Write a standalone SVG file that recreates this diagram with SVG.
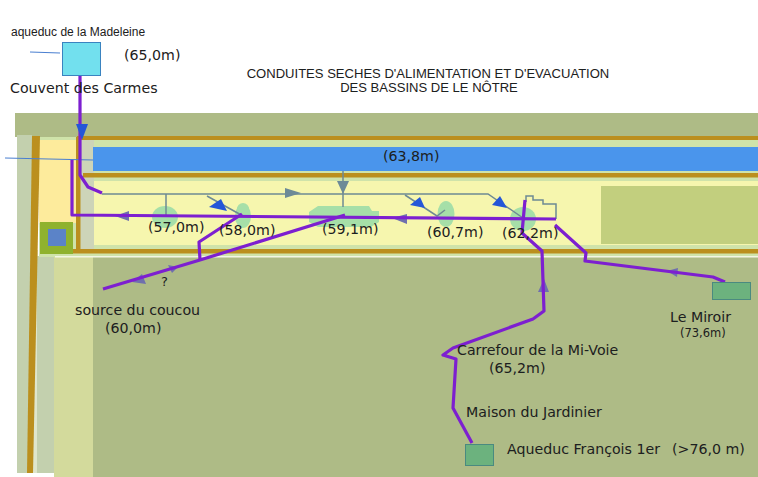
<svg xmlns="http://www.w3.org/2000/svg" width="758" height="477" viewBox="0 0 758 477">
<defs>
<style>
text{font-family:"DejaVu Sans",sans-serif;fill:#1c2020;font-size:14.200px}
.p{fill:none;stroke:#7d1fd0;stroke-width:3.200;stroke-linejoin:round}
.g{fill:none;stroke:#6e8a94;stroke-width:1.500}
.o{fill:#bb8f1e}
.pond{fill:#a6dfa8}
.ag{fill:#6d8a97}
.ab{fill:#2456d8}
.ap{fill:#6f6fae}
</style>
</defs>
<rect width="758" height="477" fill="#fff"/>
<g id="site">
<rect x="15" y="113" width="743" height="24" fill="#aebb86"/>
<rect x="17" y="135" width="15" height="338" fill="#c3d0ae"/>
<rect x="32" y="250" width="6" height="223" fill="#dfe6cc"/>
<rect x="37" y="256" width="18" height="217" fill="#c3d0ae"/>
<rect x="54" y="255" width="39" height="222" fill="#d3da9c"/>
<rect x="93" y="257" width="665" height="220" fill="#aebb86"/>
<rect x="39" y="137" width="719" height="120" fill="#cfe3aa"/>
<rect x="39" y="140" width="38" height="83" fill="#fdeb9c"/>
<rect x="79" y="140" width="15" height="110" fill="#cdd4b8"/>
<rect x="94" y="181" width="664" height="64" fill="#f6f6ae"/>
<rect x="601" y="186" width="157" height="58" fill="#c2cf7e"/>
<path class="o" d="M32 136H40L33 473H27Z"/>
<rect class="o" x="77" y="136" width="681" height="4"/>
<rect class="o" x="83" y="173" width="675" height="4.500"/>
<rect class="o" x="41" y="249" width="717" height="4.500"/>
<rect class="o" x="76" y="137" width="4.500" height="113"/>
<rect x="55" y="256" width="703" height="1.500" fill="#f3f7e4"/>
<rect x="40" y="222" width="33" height="32" fill="#8fb22e"/>
<rect x="48" y="229" width="18" height="17" fill="#5b83c8"/>
</g>
<g id="canal">
<rect x="93" y="147" width="665" height="24" fill="#4a95ec"/>
<path d="M5 158L93 160" fill="none" stroke="#4a7fd0" stroke-width="1.200"/>
</g>
<g id="bassins">
<ellipse class="pond" cx="165" cy="217" rx="13" ry="11"/>
<ellipse class="pond" cx="243" cy="216" rx="8" ry="12"/>
<circle class="pond" cx="243" cy="209" r="6"/>
<path class="pond" d="M318 206H369L372 211H379V222L371 227H318L309 222V212Z"/>
<ellipse class="pond" cx="446" cy="214" rx="8.500" ry="13"/>
<ellipse class="pond" cx="523" cy="219" rx="13" ry="12"/>
</g>
<g id="connectors">
<path class="g" d="M102 194H488L523 218"/>
<path class="g" d="M166 194V217M343 171V207M207 196L243 216M405 195L437 216L445 210M526 202V196H533V200H543V204H556V219"/>
<path class="ap" d="M115 216L129 211V221Z"/>
<path class="ap" d="M392 218L407 214V224Z"/>
<path class="ap" d="M132 282L146 284L142 274Z"/>
<path class="ap" d="M178 267L168 265L172 273Z"/>
<path class="ap" d="M544 279L549 292H538Z"/>
<path class="ap" d="M667 271L678 268L677 277Z"/>
<path class="p" d="M80 76V175L88 187L102 193"/>
<path class="p" d="M72 160V215L556 219"/>
<path class="p" d="M103 289L200 260L345 215"/>
<path class="p" d="M200 260L199 242L242 214"/>
<path class="p" d="M525 200L522 233L542 251L544 311L533 319L453 348L443 355L456 359L453 408L472 443"/>
<path class="p" d="M555 225L586 253L585 261L713 277L725 282"/>
<path class="ab" d="M76 124H88L82 140Z"/>
<path class="ag" d="M337 181H349L343 194Z"/>
<path class="ag" d="M285 188L301 193L285 198Z"/>
<path class="ab" d="M227 211L221 199L209 207Z"/>
<path class="ab" d="M425 208L420 197L410 205Z"/>
<path class="ab" d="M507 208L500 196L492 205Z"/>
</g>
<g id="couvent">
<path d="M30 52L60 53" fill="none" stroke="#4a7fd0" stroke-width="1.200"/>
<rect x="62.500" y="42.500" width="38" height="33" fill="#72e0ee" stroke="#3a83c0"/>
<text x="11" y="36" style="font-family:'Liberation Sans',sans-serif;font-size:12px">aqueduc de la Madeleine</text>
<text x="124" y="60">(65,0m)</text>
<text x="10" y="93">Couvent des Carmes</text>
</g>
<g id="title">
<text x="428" y="78" text-anchor="middle" style="font-family:'Liberation Sans',sans-serif;font-size:13.050px">CONDUITES SECHES D'ALIMENTATION ET D'EVACUATION</text>
<text x="429" y="92" text-anchor="middle" style="font-family:'Liberation Sans',sans-serif;font-size:13.050px">DES BASSINS DE LE NÔTRE</text>
</g>
<g id="labels">
<text x="383" y="161">(63,8m)</text>
<text x="148" y="232">(57,0m)</text>
<text x="219" y="235">(58,0m)</text>
<text x="322" y="234">(59,1m)</text>
<text x="427" y="237">(60,7m)</text>
<text x="502" y="238">(62,2m)</text>
<text x="161" y="286" style="font-size:13px">?</text>
<text x="75" y="315">source du coucou</text>
<text x="105" y="333">(60,0m)</text>
</g>
<g id="miroir">
<rect x="712.500" y="282.500" width="38" height="17" fill="#6cb27e" stroke="#4a8a80"/>
<text x="670" y="322">Le Miroir</text>
<text x="680" y="337" style="font-size:11.500px">(73,6m)</text>
</g>
<g id="francois">
<rect x="465.500" y="444.500" width="28" height="21" fill="#6cb27e" stroke="#4a8a80"/>
<text x="457" y="355">Carrefour de la Mi-Voie</text>
<text x="489" y="373">(65,2m)</text>
<text x="466" y="417">Maison du Jardinier</text>
<text x="507" y="454">Aqueduc François 1er</text>
<text x="672" y="454">(&gt;76,0 m)</text>
</g>
</svg>
